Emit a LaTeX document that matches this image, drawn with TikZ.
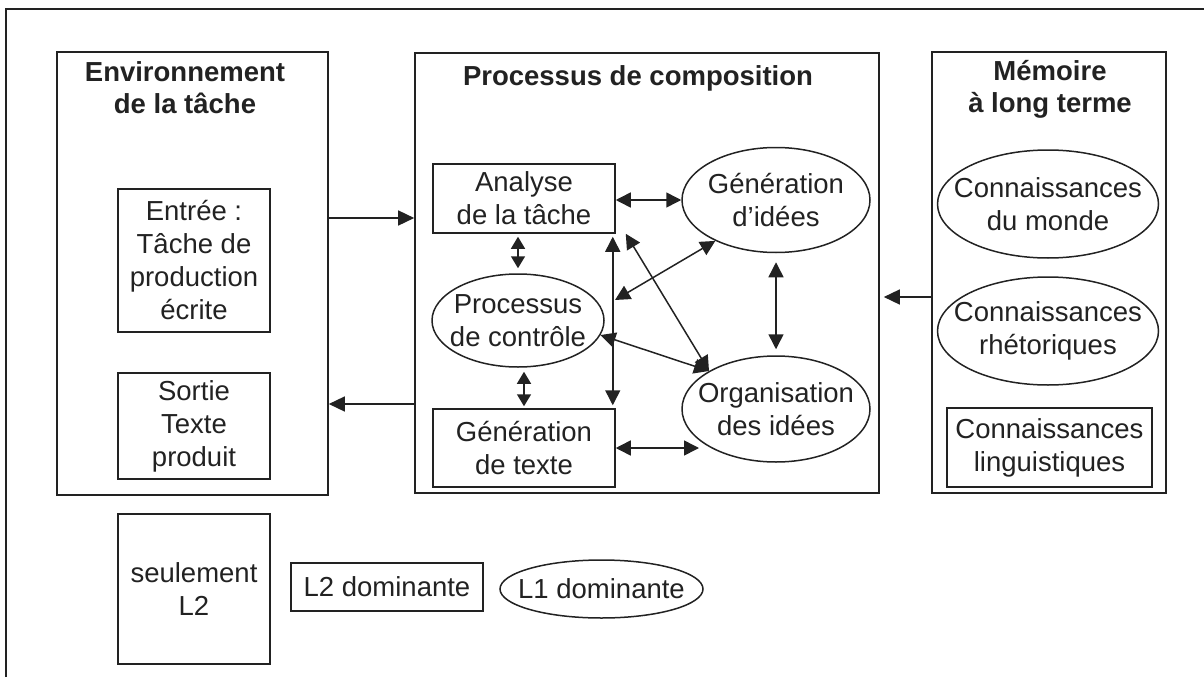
\documentclass[tikz,border=0pt]{standalone}
\usepackage{fontspec}
\setmainfont{Liberation Sans}
\usetikzlibrary{shapes.geometric,arrows.meta}
\definecolor{ink}{HTML}{222222}

\begin{document}
\begin{tikzpicture}[x=1pt, y=-1pt,
        every node/.style={font=\fontsize{27.5}{33}\selectfont, text=ink},
        bloc/.style={draw=ink, line width=1.6pt, rectangle, inner sep=0pt},
        boite/.style={draw=ink, line width=1.5pt, rectangle, align=center, inner sep=0pt},
        ovale/.style={draw=ink, line width=1.5pt, ellipse, align=center, inner xsep=-30pt, inner ysep=-10pt},
        titre/.style={font=\fontsize{27.5}{32}\selectfont\bfseries, align=center},
        fleche/.style={draw=ink, line width=1.5pt, -{Triangle[length=16pt,width=15pt]}},
        fleches/.style={draw=ink, line width=1.5pt, {Triangle[length=15pt,width=15pt]}-{Triangle[length=15pt,width=15pt]}},
        courte/.style={draw=ink, line width=1.5pt, {Triangle[length=12pt,width=14pt]}-{Triangle[length=12pt,width=14pt]}}]
        \useasboundingbox (0,0) rectangle (1204,677);

        % Cadre
        \draw[ink, line width=2.2pt] (6,677) -- (6,9) -- (1204,9);

        % Environnement de la tache
        \node[bloc, minimum width=271pt, minimum height=443pt] (env) at (192.5,273.5) {};
        \node[titre] (envtitre) at (185,87.5) {Environnement\\de la tâche};
        \node[boite, minimum width=152pt, minimum height=143pt] (entree) at (194,260.5) {Entrée~:\\Tâche de\\production\\écrite};
        \node[boite, minimum width=152pt, minimum height=106pt] (sortie) at (194,426) {Sortie\\Texte\\produit};

        % Processus de composition
        \node[bloc, minimum width=464pt, minimum height=440pt] (proc) at (647,273) {};
        \node[titre, anchor=base] (proctitre) at (638,85) {Processus de composition};
        \node[boite, minimum width=182pt, minimum height=69pt] (analyse) at (524,198.5) {Analyse\\de la tâche};
        \node[ovale, minimum width=188pt, minimum height=105pt] (genid) at (776,200) {Génération\\d'idées};
        \node[ovale, minimum width=172pt, minimum height=93pt] (ctrl) at (518,320.5) {Processus\\de contrôle};
        \node[boite, minimum width=182pt, minimum height=78pt] (gentexte) at (524,448) {Génération\\de texte};
        \node[ovale, minimum width=188pt, minimum height=106pt] (org) at (776,409) {Organisation\\des idées};

        % Memoire a long terme
        \node[bloc, minimum width=234pt, minimum height=441pt] (mem) at (1049,272.5) {};
        \node[titre] (memtitre) at (1050,89) {Mémoire\\à long terme};
        \node[ovale, minimum width=221pt, minimum height=108pt] (monde) at (1048,204) {Connaissances\\du monde};
        \node[ovale, minimum width=221pt, minimum height=108pt] (rhet) at (1048,331) {Connaissances\\rhétoriques};
        \node[boite, minimum width=205pt, minimum height=79pt] (ling) at (1049.5,447.5) {Connaissances\\linguistiques};

        % Legende
        \node[boite, minimum width=152pt, minimum height=150pt] (seul) at (194,589) {seulement\\L2};
        \node[boite, minimum width=192pt, minimum height=48pt] (ldeux) at (387,587) {L2 dominante};
        \node[ovale, minimum width=203pt, minimum height=58pt] (lun) at (601.5,589) {L1 dominante};

        % Connexions entre les blocs
        \coordinate (yin) at (0,218);
        \coordinate (yout) at (0,404);
        \coordinate (ymem) at (0,297);
        \draw[fleche] (env.east |- yin) -- (proc.west |- yin);
        \draw[fleche] (proc.west |- yout) -- (env.east |- yout);
        \draw[fleche, shorten >=4pt] (mem.west |- ymem) -- (proc.east |- ymem);

        % Connexions dans le processus
        \draw[fleches] (analyse.east |- genid.west) -- (genid.west);
        \draw[courte, shorten <=3pt, shorten >=5pt] (analyse.south -| ctrl.north) -- (ctrl.north);
        \draw[courte, shorten <=4pt, shorten >=2pt] (ctrl.south -| gentexte.north) -- (gentexte.north);
        \draw[fleches, shorten <=3pt, shorten >=3pt] ([xshift=-3pt]analyse.south east) -- ([xshift=-3pt]gentexte.north east);
        \coordinate (hx) at (615,300);
        \draw[fleches] (hx) -- (genid.214);
        \draw[fleches] ([xshift=10pt]analyse.south east) -- (org.north west);
        \draw[fleches] (ctrl.-10) -- (org.north west);
        \draw[fleches, shorten <=9pt, shorten >=6pt] (genid.south) -- (org.north);
        \draw[fleches, shorten >=10pt] (gentexte.east) -- (org.south west |- gentexte.east);
\end{tikzpicture}
\end{document}
